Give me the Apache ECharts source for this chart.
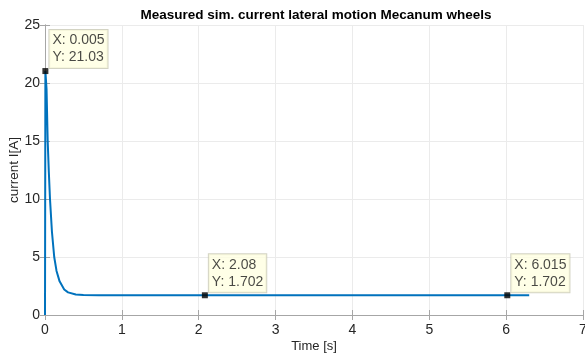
<!DOCTYPE html>
<html>
<head>
<meta charset="utf-8">
<script src="https://cdn.jsdelivr.net/npm/echarts@6/dist/echarts.min.js"></script>
<style>
  html, body { margin: 0; padding: 0; background: #fff; }
  #main { width: 585px; height: 356px; }
</style>
</head>
<body>
<div id="main"></div>
<script>
// time samples [s] and measured current [A]
var time = [0, 0.005, 0.02, 0.035, 0.05, 0.065, 0.09, 0.12, 0.15, 0.19, 0.25, 0.3, 0.4, 0.5, 0.7, 1, 2, 2.08, 3, 4, 5, 6, 6.015, 6.3];
var current = [0, 21.03, 19.5, 15, 12.3, 10, 7.2, 5, 3.8, 2.9, 2.2, 1.95, 1.77, 1.72, 1.705, 1.702, 1.702, 1.702, 1.702, 1.702, 1.702, 1.702, 1.702, 1.702];
// data tips
var tipX = [0.005, 2.08, 6.015];
var tipY = [21.03, 1.702, 1.702];

var font = 'Arial, "Liberation Sans", sans-serif';
var myChart = echarts.init(document.getElementById('main'));

var lineData = time.map(function (t, i) { return [t, current[i]]; });
var tipData = tipX.map(function (x, i) { return [x, tipY[i]]; });

var frameLine = { show: true, lineStyle: { color: '#a6a6a6', width: 1 } };
var innerTick = { show: true, inside: true, length: 5, lineStyle: { color: '#a6a6a6' } };

var options = {
    animation: false,
    title: {
        text: 'Measured sim. current lateral motion Mecanum wheels',
        left: 311,
        top: 3,
        textAlign: 'center',
        textStyle: { fontFamily: font, fontSize: 13.5, fontWeight: 'bold', color: '#000' }
    },
    grid: { left: 45, right: 2, top: 25, bottom: 41, outerBoundsMode: 'none', containLabel: false },
    xAxis: [
        {
            type: 'value', min: 0, max: 7, interval: 1,
            name: 'Time [s]', nameLocation: 'middle', nameGap: 25, nameMoveOverlap: false,
            nameTextStyle: { fontFamily: font, fontSize: 13, color: '#262626' },
            axisLine: frameLine, axisTick: innerTick,
            axisLabel: { fontFamily: font, fontSize: 14, color: '#262626', margin: 8 },
            splitLine: { show: true, lineStyle: { color: '#ebebeb' } }
        },
        {
            type: 'value', min: 0, max: 7, interval: 1, position: 'top',
            axisLine: frameLine, axisTick: innerTick,
            axisLabel: { show: false }, splitLine: { show: false }
        }
    ],
    yAxis: [
        {
            type: 'value', min: 0, max: 25, interval: 5,
            name: 'current I[A]', nameLocation: 'middle', nameGap: 24, nameMoveOverlap: false,
            nameTextStyle: { fontFamily: font, fontSize: 13.5, color: '#262626' },
            axisLine: frameLine, axisTick: innerTick,
            axisLabel: { fontFamily: font, fontSize: 14, color: '#262626', margin: 5 },
            splitLine: { show: true, lineStyle: { color: '#ebebeb' } }
        },
        {
            type: 'value', min: 0, max: 25, interval: 5, position: 'right',
            axisLine: frameLine, axisTick: innerTick,
            axisLabel: { show: false }, splitLine: { show: false }
        }
    ],
    series: [
        {
            type: 'line',
            data: lineData,
            showSymbol: false,
            lineStyle: { color: '#0072BD', width: 2 },
            z: 2
        },
        {
            type: 'scatter',
            data: tipData,
            symbol: 'rect',
            symbolSize: 6,
            itemStyle: { color: '#000' },
            z: 5,
            label: {
                show: true,
                position: [7, -38],
                formatter: function (p) {
                    return 'X: ' + p.value[0] + '\nY: ' + p.value[1];
                },
                fontFamily: font,
                fontSize: 14,
                lineHeight: 17,
                color: '#1a1a1a',
                backgroundColor: '#ffffe1',
                borderColor: '#c8c8b4',
                borderWidth: 1,
                padding: [2, 3, 2, 3]
            }
        }
    ]
};
myChart.setOption(options);
</script>
</body>
</html>
